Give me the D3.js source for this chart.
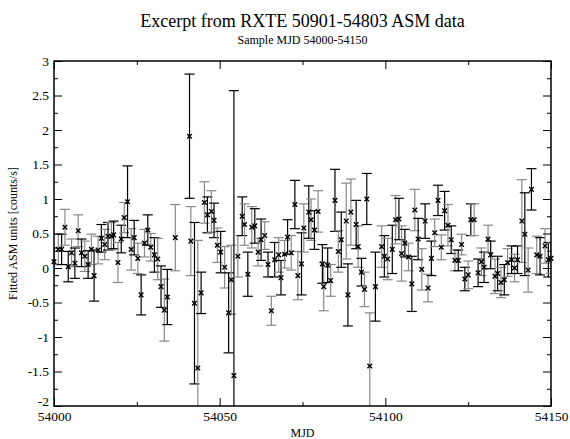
<!DOCTYPE html>
<html>
<head>
<meta charset="utf-8">
<script src="https://cdn.jsdelivr.net/npm/d3@7"></script>
<style>
  body { margin: 0; background: #fff; }
  text { font-family: "Liberation Serif", "DejaVu Serif", serif; fill: #000; }
  .tick line { stroke: #000; }
</style>
</head>
<body>
<div id="chart"></div>
<script>
// MJD offsets (days after 54000), fitted rate and 1-sigma error
var dias = [0.0, 1.3, 2.3, 3.3, 4.3, 5.3, 6.3, 7.3, 8.3, 9.3, 10.3, 11.3, 12.1, 13.3, 14.3, 15.3, 16.3, 17.3, 18.0, 19.3,
  20.3, 21.2, 22.2, 23.3, 24.2, 25.3, 26.3, 27.3, 28.3, 29.2, 30.3, 31.3, 32.3, 33.3, 34.2, 36.6, 40.9, 41.3, 42.4, 43.4,
  44.4, 45.4, 46.3, 47.5, 48.3, 49.3, 50.3, 51.5, 52.7, 53.5, 54.3, 55.5, 56.8, 57.5, 58.5, 59.7, 60.6, 61.6, 62.5, 63.6,
  64.6, 65.6, 66.6, 67.8, 68.5, 69.6, 70.5, 71.6, 72.7, 73.6, 74.7, 75.4, 76.9, 77.6, 78.6, 79.7, 81.0, 81.4, 82.6, 83.5,
  84.8, 85.8, 86.7, 88.2, 88.7, 89.6, 91.2, 91.8, 92.8, 93.7, 94.4, 95.3, 97.0, 98.9, 99.7, 100.7, 102.1, 103.1, 104.1, 104.9,
  105.9, 107.0, 108.0, 108.9, 109.9, 111.0, 112.0, 112.9, 113.9, 114.9, 115.9, 116.9, 117.9, 118.9, 119.9, 121.0, 122.0, 123.0, 124.0, 125.0,
  125.8, 126.8, 128.0, 129.0, 129.8, 131.0, 131.8, 133.1, 133.9, 134.9, 135.9, 136.9, 138.1, 139.0, 139.9, 141.2, 142.1, 143.1, 144.1, 145.7,
  146.7, 148.2, 149.2, 150.0];

var taxa = [0.09, 0.27, 0.27, 0.59, 0.02, 0.22, 0.07, 0.54, 0.22, 0.17, 0.05, 0.27, -0.11, 0.26, 0.43, 0.34, 0.46, 0.46, 0.48, 0.08,
  0.42, 0.73, 0.96, 0.27, 0.44, 0.14, -0.39, 0.36, 0.55, 0.30, 0.19, 0.13, -0.27, -0.61, -0.42, 0.44, 1.91, 0.39, -0.51, -1.45,
  -0.36, 0.95, 0.77, 0.82, 0.69, 0.33, 0.23, 0.01, -0.65, -0.17, -1.56, 0.17, 0.75, 0.63, -0.09, 0.59, 0.61, 0.23, 0.41, 0.47,
  0.05, -0.62, 0.12, 0.19, -0.14, 0.20, 0.45, 0.22, 0.92, -0.11, 0.06, 0.58, 0.81, 0.70, 0.55, 0.82, 0.06, -0.27, 0.04, -0.18,
  0.98, 0.24, 0.41, 0.68, -0.39, 0.81, 0.63, 0.31, -0.06, -0.31, 1.00, -1.42, -0.27, 0.31, 0.17, 0.13, 0.27, 0.70, 0.71, 0.21,
  0.36, 0.16, -0.23, 0.84, 0.42, -0.02, 0.68, -0.29, 0.14, 0.51, 0.98, 0.30, 0.83, 0.62, 0.41, 0.11, 0.11, 0.34, -0.16, -0.10,
  0.70, 0.70, -0.07, 0.09, 0.01, 0.42, 0.19, -0.12, -0.08, -0.21, -0.17, 0.08, 0.12, 0.00, 0.12, 0.68, 0.49, -0.03, 1.14, 0.19,
  0.17, 0.32, 0.12, 0.14];

var erros = [0.20, 0.22, 0.22, 0.26, 0.22, 0.20, 0.22, 0.23, 0.20, 0.22, 0.20, 0.22, 0.37, 0.20, 0.20, 0.22, 0.20, 0.20, 0.20, 0.29,
  0.20, 0.22, 0.52, 0.30, 0.25, 0.22, 0.29, 0.20, 0.22, 0.20, 0.25, 0.30, 0.30, 0.45, 0.40, 0.48, 0.90, 0.50, 1.17, 1.85,
  0.30, 0.30, 0.26, 0.30, 0.25, 0.25, 0.30, 0.30, 0.58, 0.50, 4.13, 0.30, 0.28, 0.30, 0.32, 0.30, 0.25, 0.20, 0.30, 0.20,
  0.18, 0.21, 0.25, 0.25, 0.25, 0.20, 0.25, 0.25, 0.35, 0.35, 0.45, 0.35, 0.38, 0.30, 0.28, 0.30, 0.28, 0.35, 0.25, 0.23,
  0.45, 0.30, 0.40, 0.55, 0.45, 0.48, 0.35, 0.30, 0.20, 0.25, 0.37, 0.77, 0.50, 0.30, 0.30, 0.30, 0.35, 0.35, 0.30, 0.40,
  0.20, 0.20, 0.40, 0.30, 0.30, 0.30, 0.25, 0.20, 0.25, 0.20, 0.22, 0.18, 0.28, 0.30, 0.20, 0.15, 0.15, 0.15, 0.17, 0.20,
  0.23, 0.23, 0.20, 0.20, 0.22, 0.20, 0.20, 0.25, 0.25, 0.22, 0.22, 0.20, 0.20, 0.20, 0.20, 0.60, 0.60, 0.32, 0.30, 0.27,
  0.27, 0.25, 0.25, 0.22];

var xMajor = [54000, 54050, 54100, 54150];
var xMinor = [54025, 54075, 54125];
var yMajor = [-2, -1.5, -1, -0.5, 0, 0.5, 1, 1.5, 2, 2.5, 3];
var yMinor = [-1.75, -1.25, -0.75, -0.25, 0.25, 0.75, 1.25, 1.75, 2.25, 2.75];

var dados = dias.map(function(d, i) {
  return { mjd: 54000 + d, qtd: taxa[i], err: erros[i] };
});

var margin = {top: 61, right: 19, bottom: 33, left: 54},
    width = 570 - margin.left - margin.right,
    height = 439 - margin.top - margin.bottom;

var x = d3.scaleLinear().domain([54000, 54150]).range([0, width]);
var y = d3.scaleLinear().domain([-2, 3]).range([height, 0]);

var root = d3.select("#chart").append("svg")
    .attr("width", 570)
    .attr("height", 439);

// titles
root.append("text")
    .attr("x", margin.left + width / 2).attr("y", 27)
    .attr("text-anchor", "middle").style("font-size", "18px")
    .text("Excerpt from RXTE 50901-54803 ASM data");
root.append("text")
    .attr("x", margin.left + width / 2).attr("y", 44)
    .attr("text-anchor", "middle").style("font-size", "12px")
    .text("Sample MJD 54000-54150");

var svg = root.append("g")
    .attr("transform", "translate(" + margin.left + "," + margin.top + ")");

svg.append("clipPath").attr("id", "area")
  .append("rect").attr("width", width).attr("height", height);

// error bars
var barras = svg.append("g").attr("clip-path", "url(#area)")
  .selectAll("g.bar").data(dados).enter().append("g")
    .attr("class", "bar")
    .style("stroke", function(d, i) { return i % 2 ? "#888" : "#000"; })
    .style("stroke-width", 1.2);

barras.append("line")
    .attr("x1", function(d) { return x(d.mjd); })
    .attr("x2", function(d) { return x(d.mjd); })
    .attr("y1", function(d) { return y(d.qtd + d.err); })
    .attr("y2", function(d) { return y(d.qtd - d.err); });
barras.append("line")
    .attr("x1", function(d) { return x(d.mjd) - 5; })
    .attr("x2", function(d) { return x(d.mjd) + 5; })
    .attr("y1", function(d) { return y(d.qtd + d.err); })
    .attr("y2", function(d) { return y(d.qtd + d.err); });
barras.append("line")
    .attr("x1", function(d) { return x(d.mjd) - 5; })
    .attr("x2", function(d) { return x(d.mjd) + 5; })
    .attr("y1", function(d) { return y(d.qtd - d.err); })
    .attr("y2", function(d) { return y(d.qtd - d.err); });

// x markers
svg.append("g").selectAll("path").data(dados).enter().append("path")
    .attr("d", function(d) {
      var cx = x(d.mjd), cy = y(d.qtd), s = 2.3;
      return "M" + (cx - s) + "," + (cy - s) + "L" + (cx + s) + "," + (cy + s) +
             "M" + (cx - s) + "," + (cy + s) + "L" + (cx + s) + "," + (cy - s);
    })
    .style("stroke", "#000").style("stroke-width", 1.4).style("fill", "none");

// axes, ticks pointing inward on all four sides
function semDominio(g) { g.select(".domain").remove(); g.selectAll("text").style("font-size", "13.5px").style("font-family", "Liberation Serif, serif"); }

svg.append("g")
    .attr("transform", "translate(0," + height + ")")
    .call(d3.axisBottom(x).tickValues(xMajor).tickSize(-8).tickPadding(5).tickFormat(function(d) { return String(d); }))
    .call(semDominio);
svg.append("g")
    .attr("transform", "translate(0," + height + ")")
    .call(d3.axisBottom(x).tickValues(xMinor).tickSize(-4).tickFormat(""))
    .call(semDominio);
svg.append("g")
    .call(d3.axisTop(x).tickValues(xMajor).tickSize(-8).tickFormat(""))
    .call(semDominio);
svg.append("g")
    .call(d3.axisTop(x).tickValues(xMinor).tickSize(-4).tickFormat(""))
    .call(semDominio);

var eixoY = svg.append("g")
    .call(d3.axisLeft(y).tickValues(yMajor).tickSize(-8).tickPadding(5).tickFormat(function(d) { return String(d); }))
    .call(semDominio);
// the bottom label sits a little higher so it clears the 54000 label
eixoY.selectAll(".tick text").filter(function(d) { return d === -2; }).attr("dy", "-0.05em");
svg.append("g")
    .call(d3.axisLeft(y).tickValues(yMinor).tickSize(-4).tickFormat(""))
    .call(semDominio);
svg.append("g")
    .attr("transform", "translate(" + width + ",0)")
    .call(d3.axisRight(y).tickValues(yMajor).tickSize(-8).tickFormat(""))
    .call(semDominio);
svg.append("g")
    .attr("transform", "translate(" + width + ",0)")
    .call(d3.axisRight(y).tickValues(yMinor).tickSize(-4).tickFormat(""))
    .call(semDominio);

// frame
svg.append("rect")
    .attr("width", width).attr("height", height)
    .style("fill", "none").style("stroke", "#000").style("stroke-width", 1.5);

// axis labels
svg.append("text")
    .attr("x", width / 2).attr("y", height + 31)
    .attr("text-anchor", "middle").style("font-size", "12px")
    .text("MJD");
svg.append("text")
    .attr("transform", "translate(" + (-37) + "," + (height / 2) + ") rotate(-90)")
    .attr("text-anchor", "middle").style("font-size", "12px")
    .text("Fitted ASM units [counts/s]");
</script>
</body>
</html>
